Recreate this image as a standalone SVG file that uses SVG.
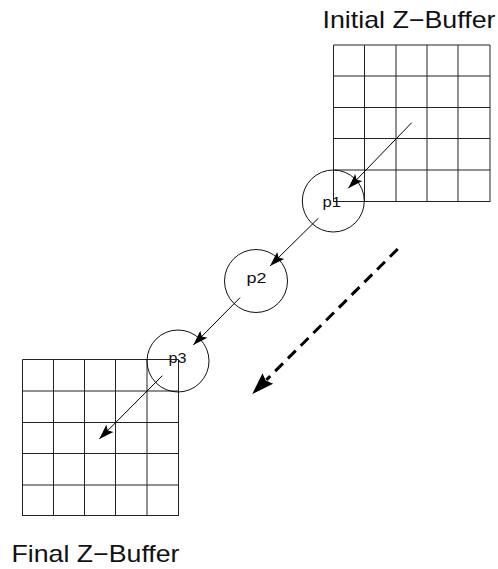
<svg xmlns="http://www.w3.org/2000/svg" width="498" height="569" viewBox="0 0 498 569">
<style>
  .grid { fill: none; stroke: #222; stroke-width: 1; }
  .node { fill: none; stroke: #111; stroke-width: 1; }
  .lbl { font-family: "Liberation Sans", Arial, sans-serif; fill: #111; }
  .title { font-size: 24px; }
  .pl { font-size: 14.5px; }
  .arrow { stroke: #000; stroke-width: 1; fill: none; }
  .dash { stroke: #000; stroke-width: 3; fill: none; stroke-dasharray: 11 7; }
</style>
<defs>
  <marker id="ah" markerUnits="userSpaceOnUse" markerWidth="20" markerHeight="12" refX="15" refY="5" orient="auto" overflow="visible">
    <path d="M0,0 L15,5 L0,10 L3,5 z" fill="#000"/>
  </marker>
  <marker id="ahBig" markerUnits="userSpaceOnUse" markerWidth="24" markerHeight="16" refX="2" refY="7.5" orient="auto" overflow="visible">
    <path d="M0,0 L22,7.5 L0,15 L3,7.5 z" fill="#000"/>
  </marker>
</defs>

<g id="initial-zbuffer">
  <path class="grid" d="M333.5,45 V202 M364.5,45 V202 M396,45 V202 M427,45 V202 M458,45 V202 M490,45 V202 M333.5,45 H490 M333.5,76 H490 M333.5,107.5 H490 M333.5,138.5 H490 M333.5,170 H490 M333.5,201.5 H490"/>
  <text class="lbl title" x="322.5" y="27.5" textLength="173" lengthAdjust="spacingAndGlyphs">Initial Z−Buffer</text>
</g>

<g id="final-zbuffer">
  <path class="grid" d="M22.5,359.5 V516 M53.5,359.5 V516 M84.5,359.5 V516 M115.5,359.5 V516 M147,359.5 V516 M178.5,359.5 V516 M22.5,359.5 H178.5 M22.5,391 H178.5 M22.5,422.5 H178.5 M22.5,453.5 H178.5 M22.5,485 H178.5 M22.5,515.5 H178.5"/>
  <text class="lbl title" x="11.5" y="561.5" textLength="168" lengthAdjust="spacingAndGlyphs">Final Z−Buffer</text>
</g>

<g id="p1">
  <circle class="node" cx="333.3" cy="201" r="31"/>
  <text class="lbl pl" x="322.5" y="206.5" textLength="18.5" lengthAdjust="spacingAndGlyphs">p1</text>
</g>
<g id="p2">
  <circle class="node" cx="256" cy="281" r="31.5"/>
  <text class="lbl pl" x="246.5" y="283" textLength="20" lengthAdjust="spacingAndGlyphs">p2</text>
</g>
<g id="p3">
  <circle class="node" cx="178" cy="361" r="31"/>
  <text class="lbl pl" x="168.5" y="363" textLength="18" lengthAdjust="spacingAndGlyphs">p3</text>
</g>

<g id="connectors">
  <line class="arrow" x1="411.7" y1="122.7" x2="348.3" y2="188.3" marker-end="url(#ah)"/>
  <line class="arrow" x1="318.3" y1="218.3" x2="270" y2="266" marker-end="url(#ah)"/>
  <line class="arrow" x1="240" y1="297.7" x2="193.3" y2="345" marker-end="url(#ah)"/>
  <line class="arrow" x1="162.3" y1="375.7" x2="99.3" y2="439" marker-end="url(#ah)"/>
  <line class="dash" x1="397.7" y1="249" x2="266.4" y2="379.9" marker-end="url(#ahBig)"/>
</g>
</svg>
